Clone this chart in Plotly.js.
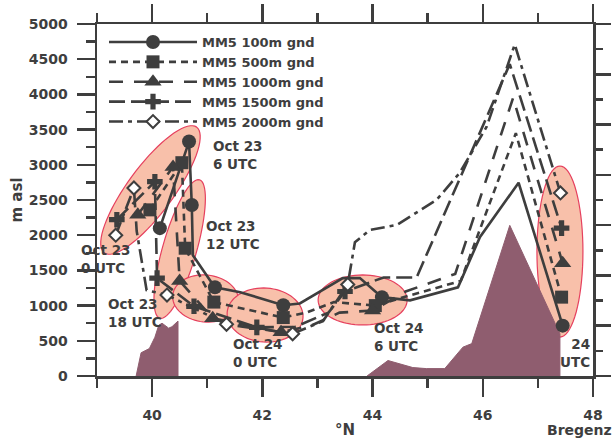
<!DOCTYPE html>
<html><head><meta charset="utf-8">
<script src="https://cdn.plot.ly/plotly-3.0.1.min.js"></script>
<style>html,body{margin:0;padding:0;background:#fff;}#chart{width:616px;height:442px;}</style>
</head><body><div id="chart"></div>
<script>
// ---------------- data ----------------
// 6-hourly times (hours after Oct 23 00 UTC); null = intermediate vertex without marker
const lat100 = [40.14, 40.67, 40.72, 40.74, 41.05, 41.14, 41.6, 42.38, 42.68, 43.17, 43.46, 43.77, 44.17, 44.68, 45.55, 45.95, 46.65, 47.45];
const alt100 = [2100, 3330, 2430, 1715, 1360, 1260, 1190, 1005, 1030, 1260, 1390, 1390, 1120, 1075, 1260, 1975, 2745, 715];
const hr100  = [0, 6, 12, null, null, 18, null, 24, null, null, null, null, 30, null, null, null, null, 36];

const lat500 = [39.96, 40.54, 40.60, 41.12, 42.38, 42.8, 43.3, 44.05, 44.7, 45.6, 46.6, 47.43];
const alt500 = [2360, 3030, 1815, 1050, 830, 900, 1050, 1000, 1150, 1350, 3450, 1120];
const hr500  = [0, 6, 12, 18, 24, null, null, 30, null, null, null, 36];

const lat1000 = [39.74, 40.38, 40.50, 41.10, 42.34, 42.9, 43.4, 44.0, 44.6, 45.5, 46.55, 47.45];
const alt1000 = [2290, 2970, 1350, 820, 620, 720, 900, 930, 1200, 1450, 3950, 1600];
const hr1000  = [0, 6, 12, 18, 24, null, null, 30, null, null, null, 36];

const lat1500 = [39.36, 40.05, 40.09, 40.76, 41.9, 42.6, 43.2, 43.5, 44.2, 44.8, 46.49, 47.43];
const alt1500 = [2220, 2760, 1390, 990, 690, 700, 900, 1200, 1400, 1400, 4430, 2100];
const hr1500  = [0, 6, 12, 18, 24, null, null, 30, null, null, null, 36];

const lat2000 = [39.34, 39.67, 39.72, 39.9, 40.27, 41.35, 42.55, 43.1, 43.55, 43.68, 43.95, 44.44, 45.16, 45.58, 46.07, 46.58, 47.41];
const alt2000 = [2000, 2670, 2060, 1220, 1150, 735, 600, 780, 1300, 1900, 2075, 2146, 2500, 2885, 3540, 4710, 2600];
const hr2000  = [0, 6, null, null, 12, 18, 24, null, 30, null, null, null, null, null, null, null, 36];

// terrain along the section (two parts, separated by null)
const terrainLat = [39.71, 39.80, 39.95, 40.05, 40.12, 40.18, 40.30, 40.36, 40.47, 40.47, null,
                    43.90, 44.28, 44.73, 44.98, 45.31, 45.64, 45.80, 46.49, 47.40, 47.40];
const terrainAlt = [0, 330, 390, 550, 720, 750, 680, 700, 780, 0, null,
                    0, 220, 120, 105, 105, 410, 460, 2140, 600, 0];

const seriesNames = ['MM5 100m gnd', 'MM5 500m gnd', 'MM5 1000m gnd', 'MM5 1500m gnd', 'MM5 2000m gnd'];
const timeLabels = ['Oct 23<br>6 UTC', 'Oct 23<br>12 UTC', 'Oct 23<br>0 UTC', 'Oct 23<br>18 UTC',
                    'Oct 24<br>0 UTC', 'Oct 24<br>6 UTC', '24<br>UTC'];
const xTickVals = [40, 42, 44, 46, 48];
const xTickText = ['40', '42', '44', '46', '48'];

// ---------------- styling ----------------
const INK = '#3e3e3e';
const FONT = 'DejaVu Sans, Arial, sans-serif';
const W = 496, H = 352, X0 = 39, X1 = 48, Y0 = 0, Y1 = 5000;
const dpx = W / (X1 - X0), dpy = H / (Y1 - Y0);

function mk(name, lat, alt, hr, dash, symbol, size, open) {
  const vis = hr.map(h => h !== null);
  return {
    type: 'scatter', mode: 'lines+markers', name: name, x: lat, y: alt,
    line: {color: INK, width: 2.6, dash: dash},
    marker: {
      symbol: symbol, size: size,
      color: vis.map(v => v ? (open ? '#ffffff' : INK) : 'rgba(0,0,0,0)'),
      line: {width: open ? 2 : 0, color: vis.map(v => v ? INK : 'rgba(0,0,0,0)')}
    },
    hoverinfo: 'skip'
  };
}

const traces = [
  {type: 'scatter', mode: 'lines', x: terrainLat, y: terrainAlt, fill: 'toself',
   fillcolor: '#8f5d6f', line: {color: '#8f5d6f', width: 1}, showlegend: false, hoverinfo: 'skip'},
  mk(seriesNames[0], lat100, alt100, hr100, 'solid', 'circle', 14, false),
  mk(seriesNames[1], lat500, alt500, hr500, '7px,5px', 'square', 13, false),
  mk(seriesNames[2], lat1000, alt1000, hr1000, '14px,11px', 'triangle-up', 15, false),
  mk(seriesNames[3], lat1500, alt1500, hr1500, '16px,6px', 'cross', 13, false),
  mk(seriesNames[4], lat2000, alt2000, hr2000, '14px,5px,4px,5px', 'diamond', 10, true),
  {type: 'scatter', x: [], y: [], yaxis: 'y2', showlegend: false, hoverinfo: 'skip'}
];

function ellipsePath(cx, cy, rx, ry, angDeg) {
  const a = angDeg * Math.PI / 180; let d = '';
  for (let i = 0; i <= 72; i++) {
    const t = 2 * Math.PI * i / 72;
    const ux = rx * Math.cos(t), uy = ry * Math.sin(t);
    const px = ux * Math.cos(a) - uy * Math.sin(a);
    const py = ux * Math.sin(a) + uy * Math.cos(a);
    d += (i ? 'L' : 'M') + (cx + px / dpx).toFixed(4) + ',' + (cy + py / dpy).toFixed(2);
  }
  return d + 'Z';
}
// highlight ellipses: centre (lat, alt), radii in px, tilt
const ellipses = [
  [39.97, 2642, 78, 23, 53.7],
  [40.50, 1804, 72, 17, 74],
  [40.97, 1101, 33, 23.5, -6],
  [42.05, 866, 38, 27, -4],
  [43.82, 1080, 44.5, 25, 0],
  [47.40, 1768, 23, 85.5, 0]
];
const shapes = ellipses.map(e => ({
  type: 'path', xref: 'x', yref: 'y', layer: 'below',
  path: ellipsePath(e[0], e[1], e[2], e[3], e[4]),
  fillcolor: '#f8c0aa', line: {color: '#e6405e', width: 1.2}
}));

function px2x(px) { return (px - 97) / W; }
function py2y(py) { return 1 - (py - 24) / H; }
const labelFont = {family: FONT, size: 13.5, color: INK, weight: 'bold'};
function lab(text, px, py, anchor) {
  return {xref: 'paper', yref: 'paper', x: px2x(px), y: py2y(py), text: text, showarrow: false,
          xanchor: anchor || 'left', yanchor: 'middle', align: anchor || 'left', font: labelFont, borderpad: 0};
}
const annotations = [
  lab(timeLabels[0], 212, 155),
  lab(timeLabels[1], 205, 234.5),
  lab(timeLabels[2], 80, 259),
  lab(timeLabels[3], 107, 312.5),
  lab(timeLabels[4], 232, 353),
  lab(timeLabels[5], 373, 337),
  lab(timeLabels[6], 591, 353, 'right'),
  {xref: 'paper', yref: 'paper', x: px2x(579), y: py2y(430), text: 'Bregenz', showarrow: false,
   xanchor: 'center', yanchor: 'middle', borderpad: 0,
   font: {family: FONT, size: 14, color: INK, weight: 'bold'}}
];

const tickFont = {family: FONT, size: 14, color: INK, weight: 'bold'};
const layout = {
  width: 616, height: 442,
  margin: {l: 97, r: 23, t: 24, b: 66, pad: 0},
  paper_bgcolor: '#ffffff', plot_bgcolor: '#ffffff',
  showlegend: true,
  legend: {x: px2x(104), y: py2y(27), xanchor: 'left', yanchor: 'top', bgcolor: 'rgba(0,0,0,0)',
           borderwidth: 0, itemwidth: 88, font: {family: FONT, size: 13, color: INK, weight: 'bold'},
           traceorder: 'normal'},
  xaxis: {range: [X0, X1], tickvals: xTickVals, ticktext: xTickText, ticks: 'outside', ticklen: 18,
          tickwidth: 2.5, tickcolor: INK, showline: true, linewidth: 2.5, linecolor: INK, mirror: 'ticks',
          showgrid: false, zeroline: false, tickfont: tickFont, ticklabelstandoff: 7,
          minor: {dtick: 1, tick0: 39, ticks: 'outside', ticklen: 9, tickwidth: 2.5, tickcolor: INK, showgrid: false},
          title: {text: '°N', font: {family: FONT, size: 15, color: INK, weight: 'bold'}, standoff: 2}},
  yaxis: {range: [Y0, Y1], dtick: 500, ticks: 'outside', ticklen: 18, tickwidth: 2.5, tickcolor: INK,
          showline: true, linewidth: 2.5, linecolor: INK, mirror: true, showgrid: false, zeroline: false,
          tickfont: tickFont, ticklabelstandoff: 6,
          minor: {dtick: 250, ticks: 'outside', ticklen: 9, tickwidth: 2.5, tickcolor: INK, showgrid: false},
          title: {text: 'm asl', font: {family: FONT, size: 15, color: INK, weight: 'bold'}, standoff: 3}},
  yaxis2: {overlaying: 'y', side: 'right', range: [0, 14], dtick: 2, ticks: 'outside', ticklen: 17,
           tickwidth: 2.5, tickcolor: INK, showticklabels: false, showgrid: false, zeroline: false, showline: false,
           minor: {dtick: 1, ticks: 'outside', ticklen: 9, tickwidth: 2.5, tickcolor: INK, showgrid: false}},
  shapes: shapes,
  annotations: annotations
};

Plotly.newPlot('chart', traces, layout, {displayModeBar: false, staticPlot: true});
</script></body></html>
